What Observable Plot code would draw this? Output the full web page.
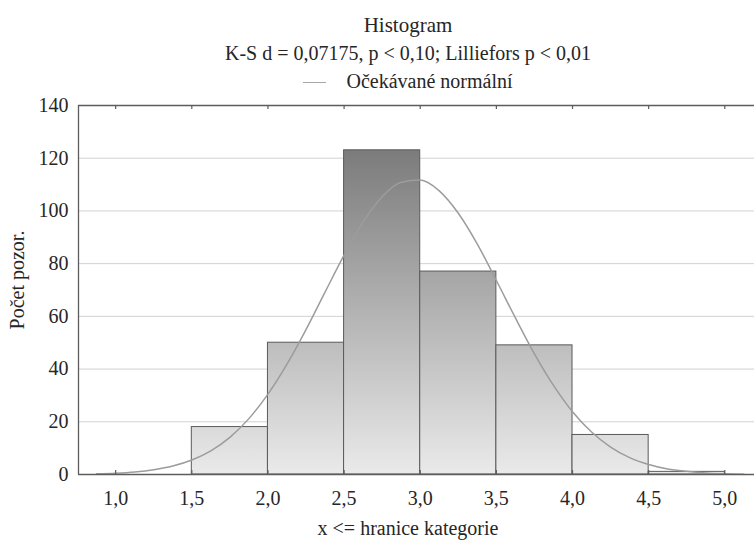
<!DOCTYPE html>
<html><head><meta charset="utf-8">
<script src="https://cdn.jsdelivr.net/npm/d3@7"></script>
<script src="https://cdn.jsdelivr.net/npm/@observablehq/plot@0.6"></script>
<style>
body{margin:0;background:#fff;font-family:"Liberation Serif","Tinos","Times New Roman","DejaVu Serif",serif;color:#262626;}
#wrap{width:754px;height:540px;position:relative;overflow:hidden}
#head{padding-top:11px;padding-left:62px;text-align:center;font-size:20px;line-height:28px;height:84px}
#t1{font-size:21px}
#head .sw{display:inline-block;width:23px;height:0;border-top:1.5px solid #a8a8a8;vertical-align:middle;margin-right:20px;position:relative;top:-1px}
#foot{padding-top:1px;padding-left:62px;text-align:center;font-size:20px;line-height:24px}
#chart svg{display:block}
</style></head>
<body>
<div id="wrap">
<div id="head"><div id="t1"></div><div id="t2"></div><div><span class="sw"></span><span id="t3"></span></div></div>
<div id="chart"></div>
<div id="foot"></div>
</div>
<script>
const titleText = "Histogram";
const subtitleText = "K-S d = 0,07175, p < 0,10; Lilliefors p < 0,01";
const legendLabel = "Očekávané normální";
const xLabel = "x <= hranice kategorie";
const yLabel = "Počet pozor.";

const binLower = [1.0, 1.5, 2.0, 2.5, 3.0, 3.5, 4.0, 4.5];
const binUpper = [1.5, 2.0, 2.5, 3.0, 3.5, 4.0, 4.5, 5.0];
const counts   = [0, 18, 50, 123, 77, 49, 15, 1];

// expected-normal curve
const curveX = [0.875, 1.0, 1.125, 1.25, 1.375, 1.5, 1.625, 1.75, 1.875, 2.0, 2.125, 2.25, 2.375, 2.5, 2.625, 2.75, 2.875, 3.0, 3.125, 3.25, 3.375, 3.5, 3.625, 3.75, 3.875, 4.0, 4.125, 4.25, 4.375, 4.5, 4.625, 4.75, 4.875, 5.0, 5.125];
const curveY = [0.24, 0.48, 0.95, 1.8, 3.2, 5.5, 9.0, 14.1, 21.2, 30.5, 41.9, 55.0, 69.2, 83.2, 95.8, 105.4, 110.9, 111.7, 107.6, 99.1, 87.4, 73.6, 59.4, 45.8, 33.8, 23.8, 16.1, 10.4, 6.4, 3.8, 2.1, 1.2, 0.6, 0.3, 0.14];

const xTicks = [1.0, 1.5, 2.0, 2.5, 3.0, 3.5, 4.0, 4.5, 5.0];
const yTicks = [0, 20, 40, 60, 80, 100, 120, 140];

document.getElementById("t1").textContent = titleText;
document.getElementById("t2").textContent = subtitleText;
document.getElementById("t3").textContent = legendLabel;
document.getElementById("foot").textContent = xLabel;

const bars = binLower.map((lo, i) => ({lo, hi: binUpper[i], n: counts[i]}));
const curve = curveX.map((x, i) => ({x, y: curveY[i]}));
const fmt = d => d3.format(".1f")(d).replace(".", ",");
const xMin = 0.756, xMax = 5.195;
const frameColor = "#5c5c5c";

const chart = Plot.plot({
  width: 754, height: 420,
  marginTop: 10, marginBottom: 41, marginLeft: 78, marginRight: 0,
  style: {fontFamily: "'Liberation Serif', 'Tinos', 'Times New Roman', 'DejaVu Serif', serif", fontSize: "20px", color: "#262626", background: "transparent", overflow: "visible"},
  x: {domain: [xMin, xMax]},
  y: {domain: [0, 140]},
  marks: [
    Plot.gridY(yTicks, {stroke: "#d2d2d2", strokeOpacity: 1}),
    Plot.rectY(bars, {x1: "lo", x2: "hi", y: "n", fill: "#cccccc", stroke: "#5a5a5a", strokeWidth: 1}),
    Plot.line(curve, {x: "x", y: "y", curve: "monotone-x", stroke: "#9c9c9c", strokeWidth: 1.5}),
    Plot.ruleY([0, 140], {stroke: frameColor, strokeWidth: 1.3}),
    Plot.ruleX([xMin], {stroke: frameColor, strokeWidth: 1.3}),
    Plot.ruleX(xTicks, {x: d => d, y1: 140, y2: 138.5, stroke: frameColor, strokeWidth: 1.2}),
    Plot.ruleX(xTicks, {x: d => d, y1: 0, y2: 1.5, stroke: frameColor, strokeWidth: 1.2}),
    Plot.axisX(xTicks, {tickSize: 0, tickPadding: 16, tickFormat: fmt, label: null, fontSize: 20}),
    Plot.axisY(yTicks, {tickSize: 0, tickPadding: 10, label: null, fontSize: 20}),
    Plot.text([yLabel], {text: d => d, frameAnchor: "left", textAnchor: "middle", lineAnchor: "middle", dx: -61, dy: -10, rotate: -90, fontSize: 20})
  ]
});

// vertical gradient for bars, in plot coordinates (dark at top, light at bottom)
const ys = chart.scale("y");
const ns = "http://www.w3.org/2000/svg";
const defs = document.createElementNS(ns, "defs");
const grad = document.createElementNS(ns, "linearGradient");
grad.setAttribute("id", "barGrad");
grad.setAttribute("gradientUnits", "userSpaceOnUse");
grad.setAttribute("x1", 0); grad.setAttribute("x2", 0);
grad.setAttribute("y1", ys.apply(140)); grad.setAttribute("y2", ys.apply(0));
[["0", "#6c6c6c"], ["1", "#eaeaea"]].forEach(([o, c]) => {
  const s = document.createElementNS(ns, "stop");
  s.setAttribute("offset", o); s.setAttribute("stop-color", c);
  grad.appendChild(s);
});
defs.appendChild(grad);
chart.insertBefore(defs, chart.firstChild);
const rg = chart.querySelector('g[aria-label="rect"]');
if (rg) {
  rg.setAttribute("fill", "url(#barGrad)");
  rg.querySelectorAll("rect").forEach(r => { if (r.getAttribute("fill")) r.setAttribute("fill", "url(#barGrad)"); });
}
document.getElementById("chart").appendChild(chart);
</script>
</body></html>
